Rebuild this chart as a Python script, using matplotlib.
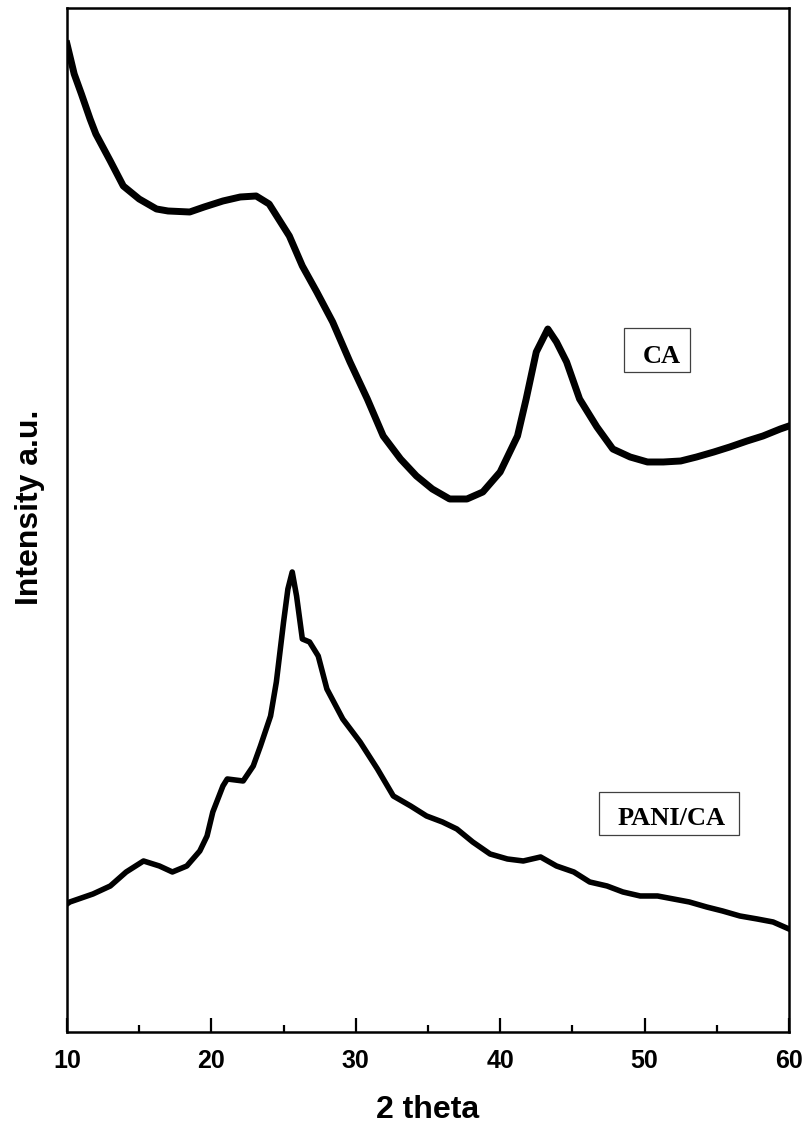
import matplotlib
matplotlib.use("Agg")
import matplotlib.pyplot as plt
from matplotlib.patches import Rectangle
from matplotlib.ticker import MultipleLocator

# XRD patterns (intensity in arbitrary units)
ca_theta = [10, 10.5, 11, 11.6, 12, 13, 13.9, 15, 16.2, 17, 18.5, 19.5, 20.8,
            22, 23.1, 24, 25.4, 26.3, 27.3, 28.4, 29.6, 30.8, 31.9, 33.1,
            34.2, 35.3, 36.5, 37.7, 38.8, 40.0, 41.2, 41.8, 42.5, 43.3, 43.9,
            44.6, 45.5, 46.7, 47.8, 49.0, 50.2, 51.3, 52.5, 53.6, 54.8, 55.9,
            57.1, 58.2, 59.4, 60]
ca_int = [988, 958, 938, 913, 898, 871, 846, 833, 823, 821, 820, 825, 831,
          835, 836, 828, 796, 766, 740, 710, 670, 633, 596, 573,
          556, 543, 533, 533, 540, 560, 596, 633, 680, 703, 690,
          670, 633, 605, 583, 575, 570, 570, 571, 575, 580, 585,
          591, 596, 603, 606]

pani_theta = [10, 10.2, 11.8, 13.0, 14.1, 15.3, 16.4, 17.3, 18.3, 19.2, 19.7,
              20.1, 20.8, 21.1, 22.2, 22.9, 23.4, 24.1, 24.5, 25.0, 25.3,
              25.6, 25.9, 26.3, 26.8, 27.4, 28.0, 29.1, 30.3, 31.5, 32.6,
              33.8, 34.9, 36.0, 37.0, 38.1, 39.3, 40.5, 41.6, 42.8, 43.9,
              45.1, 46.2, 47.4, 48.5, 49.7, 50.9, 52.0, 53.1, 54.3, 55.4,
              56.6, 57.8, 58.9, 60]
pani_int = [128, 130, 138, 146, 160, 171, 166, 160, 166, 181, 196,
            220, 246, 253, 251, 266, 286, 316, 350, 410, 443,
            460, 436, 393, 390, 376, 343, 313, 290, 263, 236,
            226, 216, 210, 203, 190, 178, 173, 171, 175, 166,
            160, 150, 146, 140, 136, 136, 133, 130, 125, 121,
            116, 113, 110, 103]

labels = ["CA", "PANI/CA"]
x_ticks = [10, 20, 30, 40, 50, 60]

fig = plt.figure(figsize=(8.04, 11.26), dpi=100)
ax = fig.add_axes([0.0833, 0.0835, 0.898, 0.9094])

ax.plot(ca_theta, ca_int, color="black", lw=5.0, solid_joinstyle="round")
ax.plot(pani_theta, pani_int, color="black", lw=4.0, solid_joinstyle="round")

ax.set_xlim(10, 60)
ax.set_ylim(0, 1024)
ax.set_xticks(x_ticks)
ax.xaxis.set_minor_locator(MultipleLocator(5))
ax.set_yticks([])
ax.tick_params(axis="x", which="major", direction="in", length=10, width=1.6,
               pad=12, labelsize=18)
ax.tick_params(axis="x", which="minor", direction="in", length=5, width=1.6)
for lab in ax.get_xticklabels():
    lab.set_fontweight("bold")
    lab.set_family(["Liberation Sans", "DejaVu Sans"])
for sp in ax.spines.values():
    sp.set_linewidth(1.8)

ax.set_xlabel("2 theta", fontsize=23, fontweight="bold",
              family=["Liberation Sans", "DejaVu Sans"])
ax.xaxis.set_label_coords(0.5, -0.076)
ax.xaxis.label.set_va("center")
ax.set_ylabel("Intensity a.u.", fontsize=23, fontweight="bold",
              family=["Liberation Sans", "DejaVu Sans"])
ax.yaxis.set_label_coords(-0.051, 0.512)
ax.yaxis.label.set_va("center")

# boxed sample labels
boxes = [(0.7715, 0.6445, 0.0914, 0.043), (0.7368, 0.1924, 0.1939, 0.042)]
text_pos = [(0.824, 0.660), (0.838, 0.208)]
for name, (bx, by, bw, bh), (tx, ty) in zip(labels, boxes, text_pos):
    ax.add_patch(Rectangle((bx, by), bw, bh, transform=ax.transAxes,
                           fill=False, edgecolor="0.25", lw=0.9))
    ax.text(tx, ty, name, transform=ax.transAxes, ha="center", va="center",
            fontsize=19, fontweight="bold",
            family=["Liberation Serif", "DejaVu Serif"])

fig.savefig("out.png", dpi=100)
